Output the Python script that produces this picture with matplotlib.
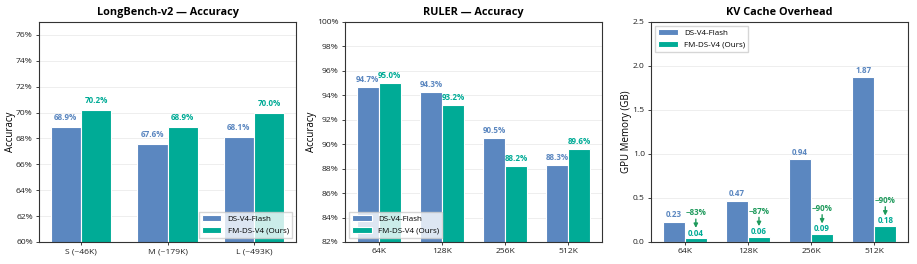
import matplotlib.pyplot as plt
import numpy as np

plt.rcParams['font.family'] = ['Open Sans', 'DejaVu Sans']

# veriler
lb_cats = ['S (~46K)', 'M (~179K)', 'L (~493K)']
lb_base = [68.9, 67.6, 68.1]
lb_ours = [70.2, 68.9, 70.0]

ruler_cats = ['64K', '128K', '256K', '512K']
ruler_base = [94.7, 94.3, 90.5, 88.3]
ruler_ours = [95.0, 93.2, 88.2, 89.6]

kv_cats = ['64K', '128K', '256K', '512K']
kv_base = [0.23, 0.47, 0.94, 1.87]
kv_ours = [0.04, 0.06, 0.09, 0.18]
kv_red = ['\u221283%', '\u221287%', '\u221290%', '\u221290%']

names = ['DS-V4-Flash', 'FM-DS-V4 (Ours)']
c_base = '#5b87c0'
c_ours = '#00ab96'
c_ann = '#1f9a5c'
w = 0.35

fig = plt.figure(figsize=(9.17, 2.64), dpi=100)
ax1 = fig.add_axes([39/917, 22/264, 257/917, 220/264])
ax2 = fig.add_axes([345/917, 22/264, 257/917, 220/264])
ax3 = fig.add_axes([651/917, 22/264, 257/917, 220/264])


def lbl(ax, rects, vals, fmt, color, off):
    for r, v in zip(rects, vals):
        ax.annotate(fmt(v), (r.get_x() + r.get_width()/2, v), xytext=(0, off), textcoords='offset points',
                    ha='center', va='bottom', fontsize=5.8, fontweight='bold', color=color)


def bars(ax, cats, base, ours):
    x = np.arange(len(cats))
    b1 = ax.bar(x - w/2, base, w, color=c_base, edgecolor='white', linewidth=0.8, label=names[0], zorder=2)
    b2 = ax.bar(x + w/2, ours, w, color=c_ours, edgecolor='white', linewidth=0.8, label=names[1], zorder=2)
    ax.set_xticks(x)
    ax.set_xticklabels(cats)
    ax.grid(axis='y', color='#ebebeb', linewidth=0.6, zorder=0)
    ax.set_axisbelow(True)
    ax.tick_params(labelsize=6.1, length=2.5, width=0.6, colors='#222222', pad=2)
    for s in ax.spines.values():
        s.set_color('#333333')
        s.set_linewidth(0.8)
    return b1, b2


def pct(v):
    return f'{v:.1f}%'


b1, b2 = bars(ax1, lb_cats, lb_base, lb_ours)
lbl(ax1, b1, lb_base, pct, c_base, 3.5)
lbl(ax1, b2, lb_ours, pct, c_ours, 3.5)
ax1.set_ylim(60, 77)
ax1.set_yticks(np.arange(60, 77, 2))
ax1.set_yticklabels([f'{t}%' for t in range(60, 77, 2)])
ax1.set_ylabel('Accuracy', fontsize=7)
ax1.yaxis.set_label_coords(-0.09, 0.5)
ax1.set_title('LongBench-v2 \u2014 Accuracy', fontsize=7.8, fontweight='bold', pad=5)
ax1.legend(loc='lower right', fontsize=5.8, frameon=True, edgecolor='#cccccc', fancybox=False, handlelength=2.4)

b1, b2 = bars(ax2, ruler_cats, ruler_base, ruler_ours)
lbl(ax2, b1, ruler_base, pct, c_base, 2)
lbl(ax2, b2, ruler_ours, pct, c_ours, 2)
ax2.set_ylim(82, 100)
ax2.set_yticks(np.arange(82, 101, 2))
ax2.set_yticklabels([f'{t}%' for t in range(82, 101, 2)])
ax2.set_ylabel('Accuracy', fontsize=7)
ax2.yaxis.set_label_coords(-0.11, 0.5)
ax2.set_title('RULER \u2014 Accuracy', fontsize=7.8, fontweight='bold', pad=5)
ax2.legend(loc='lower left', fontsize=5.8, frameon=True, edgecolor='#cccccc', fancybox=False, handlelength=2.4)

b1, b2 = bars(ax3, kv_cats, kv_base, kv_ours)
lbl(ax3, b1, kv_base, lambda v: f'{v:.2f}', c_base, 2)
lbl(ax3, b2, kv_ours, lambda v: f'{v:.2f}', c_ours, 0.5)
for r, v, t in zip(b2, kv_ours, kv_red):
    xc = r.get_x() + r.get_width()/2
    ax3.annotate('', xy=(xc, v + 0.12), xytext=(xc, v + 0.22),
                 arrowprops=dict(arrowstyle='-|>', color=c_ann, lw=1, mutation_scale=6, shrinkA=0, shrinkB=0))
    ax3.text(xc, v + 0.24, t, ha='center', va='bottom', fontsize=5.8, fontweight='bold', color=c_ann)
ax3.set_ylim(0, 2.5)
ax3.set_yticks(np.arange(0, 2.51, 0.5))
ax3.set_yticklabels([f'{t:.1f}' for t in np.arange(0, 2.51, 0.5)])
ax3.set_ylabel('GPU Memory (GB)', fontsize=7)
ax3.yaxis.set_label_coords(-0.075, 0.5)
ax3.set_title('KV Cache Overhead', fontsize=7.8, fontweight='bold', pad=5)
ax3.legend(loc='upper left', fontsize=5.8, frameon=True, edgecolor='#cccccc', fancybox=False, handlelength=2.4)

fig.savefig('out.png', dpi=100)
